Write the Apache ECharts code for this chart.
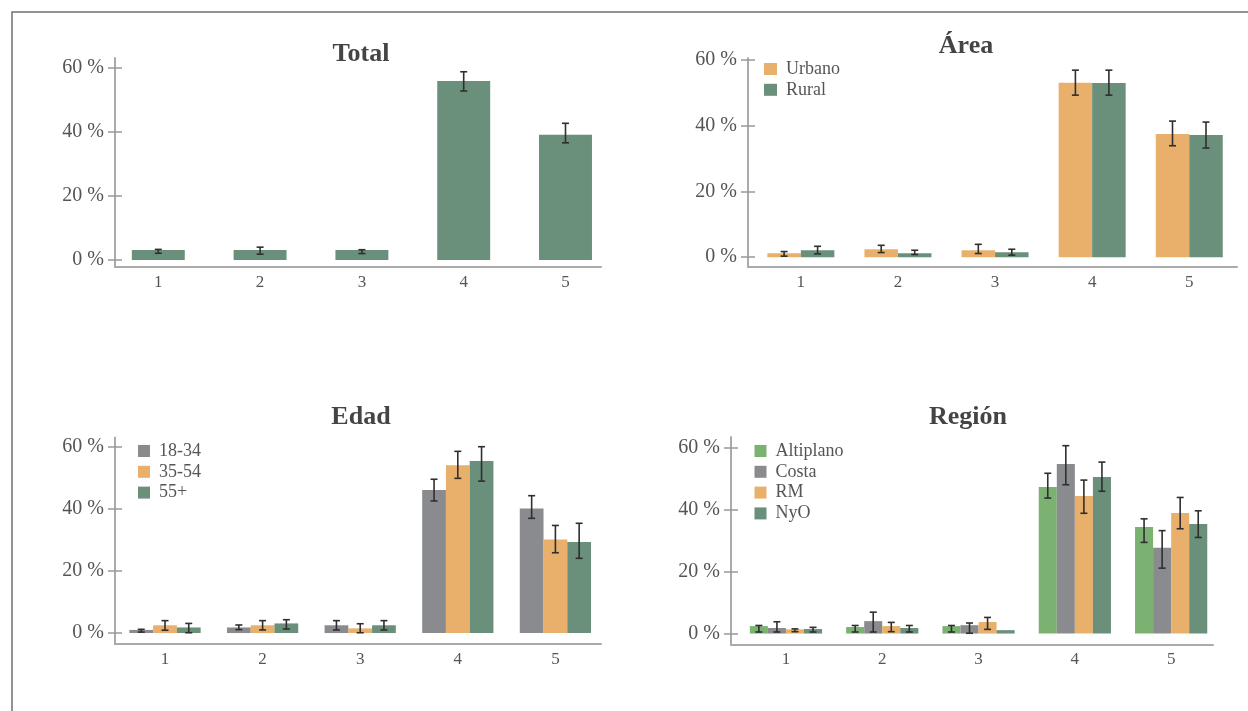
<!DOCTYPE html>
<html>
<head>
<meta charset="utf-8">
<script src="https://cdn.jsdelivr.net/npm/echarts@6/dist/echarts.min.js"></script>
<style>
html,body{margin:0;padding:0;background:#fff;}
#chart{width:1248px;height:711px;}
</style>
</head>
<body>
<div id="chart"></div>
<script>
// ---------- data ----------
const categories = ['1', '2', '3', '4', '5'];
const yTickValues = [0, 20, 40, 60];

const totalValues = [3.1, 3.1, 3.1, 55.9, 39.1];
const totalLow    = [2.1, 1.8, 2.0, 52.8, 36.6];
const totalHigh   = [3.3, 4.0, 3.2, 58.8, 42.7];

const urbanoValues = [1.2, 2.4, 2.1, 53.1, 37.5];
const urbanoLow    = [0.3, 1.4, 1.1, 49.3, 33.9];
const urbanoHigh   = [1.7, 3.6, 3.9, 56.9, 41.4];
const ruralValues  = [2.1, 1.2, 1.5, 53.0, 37.2];
const ruralLow     = [1.0, 0.8, 0.6, 49.3, 33.2];
const ruralHigh    = [3.3, 2.1, 2.4, 56.9, 41.1];

const age1834Values = [1.0, 1.8, 2.5, 46.1, 40.2];
const age1834Low    = [0.3, 1.1, 1.0, 42.6, 37.0];
const age1834High   = [1.2, 2.6, 4.0, 49.6, 44.3];
const age3554Values = [2.5, 2.5, 1.5, 54.1, 30.2];
const age3554Low    = [0.9, 1.0, 0.1, 49.9, 25.9];
const age3554High   = [4.0, 4.0, 3.0, 58.6, 34.7];
const age55Values   = [1.8, 3.1, 2.5, 55.5, 29.4];
const age55Low      = [0.1, 1.3, 1.0, 49.0, 24.1];
const age55High     = [3.1, 4.3, 4.0, 60.1, 35.4];

const altiplanoValues = [2.4, 2.1, 2.4, 47.3, 34.4];
const altiplanoLow    = [0.5, 0.5, 0.5, 43.7, 29.4];
const altiplanoHigh   = [2.6, 2.6, 2.6, 51.7, 37.0];
const costaValues     = [1.8, 4.0, 2.7, 54.7, 27.7];
const costaLow        = [0.5, 0.5, 0.1, 48.0, 21.1];
const costaHigh       = [3.8, 6.9, 3.4, 60.6, 33.2];
const rmValues        = [1.35, 2.4, 3.7, 44.4, 38.9];
const rmLow           = [0.6, 0.6, 1.35, 38.8, 33.8];
const rmHigh          = [1.5, 3.6, 5.2, 49.5, 43.9];
const nyoValues       = [1.45, 1.8, 1.1, 50.5, 35.3];
const nyoLow          = [0.5, 0.5, null, 45.9, 31.0];
const nyoHigh         = [2.0, 2.6, null, 55.3, 39.6];

// ---------- styles / layout ----------
const FONT = "'Liberation Serif','Times New Roman',serif";
const COL = { green: '#6a8f7a', orange: '#e9b06b', gray: '#8a8b8f', light: '#7bb272' };
const AXIS_COLOR = '#aaaaaa';
const TEXT_COLOR = '#555555';

const panels = [
  { title: 'Total', tx: 361, ty: 54,
    axisLeft: 115, axisWidth: 486, dataLeft: 107.4, dataWidth: 509,
    top: 58, height: 209, min: -2.2, max: 63.1, gap: 0.48, legend: null,
    series: [{ name: 'Total', color: COL.green, values: totalValues, low: totalLow, high: totalHigh }] },
  { title: 'Área', tx: 966, ty: 46,
    axisLeft: 748, axisWidth: 489, dataLeft: 752.3, dataWidth: 485.5,
    top: 58, height: 209, min: -3, max: 60.6, gap: 0.31,
    legend: { left: 764, top: 60, itemWidth: 13 },
    series: [
      { name: 'Urbano', color: COL.orange, values: urbanoValues, low: urbanoLow, high: urbanoHigh },
      { name: 'Rural', color: COL.green, values: ruralValues, low: ruralLow, high: ruralHigh }] },
  { title: 'Edad', tx: 361, ty: 417,
    axisLeft: 115, axisWidth: 486, dataLeft: 116.2, dataWidth: 488,
    top: 437.4, height: 206.8, min: -3.6, max: 63.1, gap: 0.27,
    legend: { left: 138, top: 442, itemWidth: 12 },
    series: [
      { name: '18-34', color: COL.gray, values: age1834Values, low: age1834Low, high: age1834High },
      { name: '35-54', color: COL.orange, values: age3554Values, low: age3554Low, high: age3554High },
      { name: '55+', color: COL.green, values: age55Values, low: age55Low, high: age55High }] },
  { title: 'Región', tx: 968, ty: 417,
    axisLeft: 731, axisWidth: 482, dataLeft: 737.8, dataWidth: 481.5,
    top: 437, height: 207.4, min: -3.5, max: 63.4, gap: 0.25,
    legend: { left: 754.5, top: 442, itemWidth: 12 },
    series: [
      { name: 'Altiplano', color: COL.light, values: altiplanoValues, low: altiplanoLow, high: altiplanoHigh },
      { name: 'Costa', color: COL.gray, values: costaValues, low: costaLow, high: costaHigh },
      { name: 'RM', color: COL.orange, values: rmValues, low: rmLow, high: rmHigh },
      { name: 'NyO', color: COL.green, values: nyoValues, low: nyoLow, high: nyoHigh }] }
];

const grid = [], xAxis = [], yAxis = [], series = [], legend = [], graphic = [];

graphic.push({ type: 'polyline', silent: true,
  shape: { points: [[12, 1300], [12, 12], [1300, 12]] },
  style: { stroke: '#6f6f6f', lineWidth: 1.5, fill: null } });

panels.forEach((p, pi) => {
  const gA = grid.length;
  grid.push({ left: p.axisLeft, top: p.top, width: p.axisWidth, height: p.height });
  const gD = grid.length;
  grid.push({ left: p.dataLeft, top: p.top, width: p.dataWidth, height: p.height });

  xAxis.push({ type: 'category', gridIndex: gA, data: categories,
    axisLine: { show: true, onZero: false, lineStyle: { color: AXIS_COLOR, width: 2 } },
    axisTick: { show: false }, axisLabel: { show: false }, splitLine: { show: false } });
  const xD = xAxis.length;
  xAxis.push({ type: 'category', gridIndex: gD, data: categories,
    axisLine: { show: false, onZero: false }, axisTick: { show: false },
    axisLabel: { show: true, color: TEXT_COLOR, fontFamily: FONT, fontSize: 17, margin: 7 },
    splitLine: { show: false } });

  yAxis.push({ type: 'value', gridIndex: gA, position: 'left', min: p.min, max: p.max,
    axisLine: { show: true, lineStyle: { color: AXIS_COLOR, width: 2 } },
    axisTick: { show: true, length: 7, customValues: yTickValues, lineStyle: { color: '#999', width: 1.5 } },
    axisLabel: { show: true, customValues: yTickValues, formatter: v => v + ' %',
      color: TEXT_COLOR, fontFamily: FONT, fontSize: 20, margin: 11 },
    splitLine: { show: false } });
  yAxis.push({ type: 'value', gridIndex: gA, position: 'left', offset: 0, min: p.min, max: p.max,
    axisLine: { show: false },
    axisTick: { show: true, inside: true, length: 7, customValues: yTickValues, lineStyle: { color: '#999', width: 1.5 } },
    axisLabel: { show: false }, splitLine: { show: false } });
  const yD = yAxis.length;
  yAxis.push({ type: 'value', gridIndex: gD, min: p.min, max: p.max, show: false,
    axisLine: { show: false }, axisTick: { show: false }, axisLabel: { show: false }, splitLine: { show: false } });

  const n = p.series.length;
  p.series.forEach((s) => {
    series.push({ type: 'bar', name: s.name, xAxisIndex: xD, yAxisIndex: yD,
      data: s.values, barGap: '0%', barCategoryGap: (p.gap * 100) + '%',
      itemStyle: { color: s.color }, emphasis: { disabled: true } });
  });
  p.series.forEach((s, si) => {
    const errData = [];
    s.values.forEach((v, ci) => {
      if (s.low[ci] != null && s.high[ci] != null) errData.push([ci, s.low[ci], s.high[ci]]);
    });
    series.push({ type: 'custom', name: 'err-' + s.name, xAxisIndex: xD, yAxisIndex: yD,
      z: 5, silent: true, encode: { x: 0, y: [1, 2] }, data: errData,
      renderItem: function (params, api) {
        const ci = api.value(0), lo = api.value(1), hi = api.value(2);
        const band = api.size([1, 0])[0];
        const bw = band * (1 - p.gap) / n;
        const off = (si - (n - 1) / 2) * bw;
        const pLo = api.coord([ci, lo]);
        const pHi = api.coord([ci, hi]);
        const x = pLo[0] + off;
        const cap = 3.5;
        const st = { stroke: '#2f2f2f', lineWidth: 1.6 };
        return { type: 'group', children: [
          { type: 'line', shape: { x1: x, y1: pLo[1], x2: x, y2: pHi[1] }, style: st },
          { type: 'line', shape: { x1: x - cap, y1: pLo[1], x2: x + cap, y2: pLo[1] }, style: st },
          { type: 'line', shape: { x1: x - cap, y1: pHi[1], x2: x + cap, y2: pHi[1] }, style: st }
        ] };
      } });
  });

  if (p.legend) {
    legend.push({ orient: 'vertical', left: p.legend.left, top: p.legend.top, padding: 0,
      icon: 'rect', itemWidth: p.legend.itemWidth, itemHeight: 12, itemGap: 2.8,
      selectedMode: false,
      data: p.series.map(s => s.name),
      textStyle: { color: TEXT_COLOR, fontFamily: FONT, fontSize: 18, lineHeight: 18, padding: [0, 0, 0, 4] } });
  }

  graphic.push({ type: 'text', silent: true, x: p.tx, y: p.ty,
    style: { text: p.title, fill: '#444', font: 'bold 26px ' + FONT, textAlign: 'center', textVerticalAlign: 'middle' } });
});

const chart = echarts.init(document.getElementById('chart'), null, { renderer: 'canvas' });
chart.setOption({
  animation: false,
  backgroundColor: '#ffffff',
  grid, xAxis, yAxis, series, legend, graphic,
  tooltip: { show: false }
});
</script>
</body>
</html>
